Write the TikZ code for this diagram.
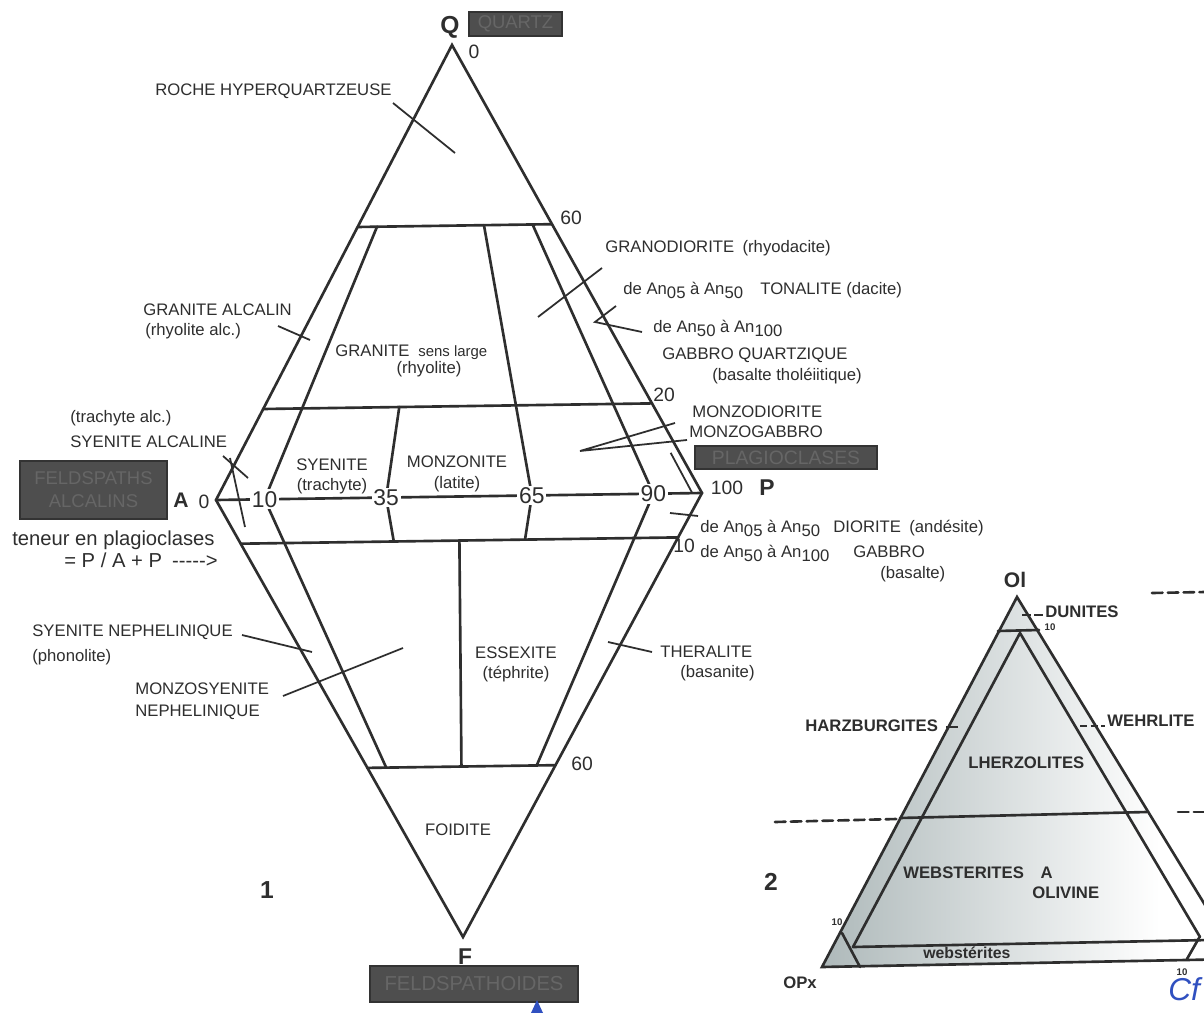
\documentclass[tikz,border=0pt]{standalone}
\usepackage{fontspec}
\setmainfont{Liberation Sans}
\usetikzlibrary{calc}
\definecolor{ink}{HTML}{2E2E2E}
\definecolor{boxfill}{HTML}{4E4E4E}
\definecolor{boxtext}{HTML}{666666}
\definecolor{pen}{HTML}{3050C0}
\definecolor{tintA}{HTML}{AEB9BA}
\definecolor{tintB}{HTML}{DFDFE6}
\newcommand{\sbs}[1]{\raisebox{-0.45ex}{#1}}
\newcommand{\hy}{-\kern0pt}
\begin{document}
\begin{tikzpicture}[x=0.02cm,y=-0.02cm,
  edge/.style={draw=ink, line width=1.5pt, line cap=round},
  lead/.style={draw=ink, line width=1.0pt},
  lbl/.style={text=ink, font=\fontsize{9.5}{11}\selectfont, inner sep=0pt, anchor=base west},
  lblc/.style={lbl, anchor=base},
  num/.style={text=ink, font=\fontsize{11}{13}\selectfont, inner sep=0pt},
  apnum/.style={text=ink, font=\fontsize{13}{15}\selectfont, fill=white, inner sep=1pt},
  vtx/.style={text=ink, font=\bfseries\fontsize{12}{14}\selectfont, inner sep=0pt},
  darkbox/.style={fill=boxfill, draw=black!80, line width=0.8pt, text=boxtext, inner sep=0pt, align=center},
  tlbl/.style={lbl, font=\bfseries\fontsize{9.5}{11}\selectfont},
  tinynum/.style={text=ink, font=\bfseries\fontsize{5.5}{6}\selectfont, inner sep=0pt}
]
\useasboundingbox (0,0) rectangle (1204,1013);
\fill[white] (0,0) rectangle (1204,1013);
\clip (0,0) rectangle (1204,1013);

% ---------- QAPF diamond ----------
\coordinate (Q) at (452,45);
\coordinate (A) at (216,500);
\coordinate (P) at (702,493);
\coordinate (F) at (463,937);
\foreach \r/\n in {0.1/10, 0.35/35, 0.5/50, 0.65/65, 0.9/90, 0.98/98}
  \coordinate (R\n) at ($(A)!\r!(P)$);

\draw[edge] (Q) -- (A) -- (F) -- (P) -- cycle;
\draw[edge] (A) -- (P);
\draw[edge] ($(A)!0.6!(Q)$) -- ($(P)!0.6!(Q)$);
\draw[edge] ($(A)!0.2!(Q)$) -- ($(P)!0.2!(Q)$);
\draw[edge] ($(A)!0.1!(F)$) -- ($(P)!0.1!(F)$);
\draw[edge] ($(A)!0.613!(F)$) -- ($(P)!0.613!(F)$);

\draw[edge] (R10) -- ($(R10)!0.6!(Q)$);
\draw[edge] (R35) -- ($(R35)!0.2!(Q)$);
\draw[edge] (R65) -- ($(R65)!0.6!(Q)$);
\draw[edge] (R90) -- ($(R90)!0.6!(Q)$);
\draw[edge] (R10) -- ($(R10)!0.613!(F)$);
\draw[edge] (R35) -- ($(R35)!0.1!(F)$);
\draw[edge] ($(R50)!0.1!(F)$) -- ($(R50)!0.613!(F)$);
\draw[edge] (R65) -- ($(R65)!0.1!(F)$);
\draw[edge] (R90) -- ($(R90)!0.613!(F)$);
\draw[lead] (R98) -- ($(R98)!0.09!(Q)$);

\node[apnum] (n10) at (R10) {10};
\node[apnum] (n35) at (R35) {35};
\node[apnum] (n65) at (R65) {65};
\node[apnum] (n90) at (R90) {90};

% leaders
\draw[lead] (393,103) -- (455,153);
\draw[lead] (278,326) -- (310,340);
\draw[lead] (602,268) -- (538,317);
\draw[lead] (616,306) -- (595,322) -- (642,332);
\draw[lead] (675,423) -- (580,451) -- (687,440);
\draw[lead] (223,456) -- (248,478);
\draw[lead] (230,458) -- (245,527);
\draw[lead] (670,513) -- (698,516);
\draw[lead] (242,635) -- (312,652);
\draw[lead] (283,696) -- (403,648);
\draw[lead] (608,642) -- (652,652);

% vertex labels and boxes
\node[vtx, font=\bfseries\fontsize{14}{16}\selectfont] (qlab) at (450,27) {Q};
\node[num] (q0) at (474,52) {0};
\node[darkbox, minimum width=1.86cm, minimum height=0.48cm, font=\fontsize{10.5}{12}\selectfont] (quartzbox) at (515.5,24) {QUARTZ};
\node[vtx] (alab) at (181,500) {A};
\node[num] (a0) at (204,502) {0};
\node[darkbox, minimum width=2.94cm, minimum height=1.16cm, font=\fontsize{10.5}{13}\selectfont] (fabox) at (93.5,490) {FELDSPATHS\\ALCALINS};
\node[num] (p100) at (727,488) {100};
\node[vtx, font=\bfseries\fontsize{13}{15}\selectfont] (plab) at (767,488) {P};
\node[darkbox, minimum width=3.64cm, minimum height=0.46cm, font=\fontsize{11}{13}\selectfont] (plbox) at (786,457.5) {PLAGIOCLASES};
\node[vtx, font=\bfseries\fontsize{13}{15}\selectfont] (flab) at (465,957) {F};
\node[darkbox, minimum width=4.16cm, minimum height=0.72cm, font=\fontsize{11.5}{13}\selectfont] (fdbox) at (474,984) {FELDSPATHOIDES};

\node[num] (l60a) at (571,218) {60};
\node[num] (l20) at (664,395) {20};
\node[num] (l10) at (684,546) {10};
\node[num] (l60b) at (582,764) {60};

\node[lbl, font=\fontsize{11.5}{13}\selectfont] (ten1) at (12,545) {teneur en plagioclases};
\node[lbl, font=\fontsize{11.5}{13}\selectfont] (ten2) at (64,567) {= P / A + P\enspace \hy\hy\hy\hy\hy>};

% region labels
\node[lbl] at (155,96) {ROCHE HYPERQUARTZEUSE};
\node[lbl] at (143,316) {GRANITE ALCALIN};
\node[lbl] at (145,336) {(rhyolite alc.)};
\node[lbl] at (605,253) {GRANODIORITE\enspace(rhyodacite)};
\node[lbl] at (623,295) {de An\sbs{05} à An\sbs{50}};
\node[lbl] at (760,295) {TONALITE (dacite)};
\node[lbl] at (653,333) {de An\sbs{50} à An\sbs{100}};
\node[lbl] at (662,360) {GABBRO QUARTZIQUE};
\node[lbl] at (712,381) {(basalte tholéiitique)};
\node[lbl] at (692,418) {MONZODIORITE};
\node[lbl] at (689,438) {MONZOGABBRO};
\node[lbl] at (70,423) {(trachyte alc.)};
\node[lbl] at (70,448) {SYENITE ALCALINE};
\node[lbl] at (335,357) {GRANITE};
\node[lbl, font=\fontsize{8.5}{10}\selectfont] at (418,357) {sens large};
\node[lblc] at (429,374) {(rhyolite)};
\node[lblc] at (332,471) {SYENITE};
\node[lblc] at (332,491) {(trachyte)};
\node[lblc] at (457,468) {MONZONITE};
\node[lblc] at (457,489) {(latite)};
\node[lbl] at (700,533) {de An\sbs{05} à An\sbs{50}};
\node[lbl] at (833,533) {DIORITE\enspace(andésite)};
\node[lbl] at (700,558) {de An\sbs{50} à An\sbs{100}};
\node[lbl] at (853,558) {GABBRO};
\node[lbl] at (880,578) {(basalte)};
\node[lbl] at (32,636) {SYENITE NEPHELINIQUE};
\node[lbl] at (32,661) {(phonolite)};
\node[lbl] at (135,694) {MONZOSYENITE};
\node[lbl] at (135,716) {NEPHELINIQUE};
\node[lblc] at (516,658) {ESSEXITE};
\node[lblc] at (516,678) {(téphrite)};
\node[lbl] at (660,657) {THERALITE};
\node[lbl] at (680,677) {(basanite)};
\node[lblc] at (458,835) {FOIDITE};
\node[vtx, font=\bfseries\fontsize{14}{16}\selectfont] (one) at (267,890) {1};

% ---------- ultramafic triangle ----------
\coordinate (Ol) at (1017,597);
\coordinate (OPx) at (822,967);
\coordinate (CPx) at (1238,959);
\begin{scope}
  \clip (Ol) -- (OPx) -- (CPx) -- cycle;
  \shade[left color=tintA, middle color=tintB, right color=white] (822,590) rectangle (1160,970);
\end{scope}
\draw[edge] (Ol) -- (OPx) -- (CPx) -- cycle;
\draw[edge] (998,631) -- (1039,630);
\draw[edge] (1020,633) -- (853,947);
\draw[edge] (1020,633) -- (1200,937);
\draw[edge] (853,947) -- (1210,940);
\draw[edge] (900,818) -- (1147,812);
\draw[edge, dash pattern=on 6pt off 3pt] (775,822) -- (897,819);
\draw[edge, dash pattern=on 6pt off 3pt] (1178,812) -- (1206,812);
\draw[edge, dash pattern=on 6pt off 3pt] (1152,593) -- (1206,592);
\draw[edge] (842,933) -- (860,967);
\draw[edge] (1187,959) -- (1199,938);
\draw[lead, dash pattern=on 5pt off 2pt] (1022,615) -- (1045,615);
\draw[lead] (946,727) -- (958,727);
\draw[lead, dash pattern=on 4pt off 2pt] (1080,726) -- (1105,726);

\node[vtx] (ollab) at (1015,580) {Ol};
\node[tlbl] at (1045,617) {DUNITES};
\node[tinynum] at (1050,627) {10};
\node[tlbl] at (805,731) {HARZBURGITES};
\node[tlbl] at (1107,726) {WEHRLITE};
\node[tlbl] at (968,768) {LHERZOLITES};
\node[tlbl] at (903,878) {WEBSTERITES\quad A};
\node[tlbl] at (1032,898) {OLIVINE};
\node[tlbl, font=\bfseries\fontsize{9}{10}\selectfont] at (923,958) {webstérites};
\node[tlbl] at (783,988) {OPx};
\node[tinynum] at (837,922) {10};
\node[tinynum] at (1182,972) {10};
\node[vtx, font=\bfseries\fontsize{14}{16}\selectfont] (two) at (771,882) {2};

% handwritten marks
\node[text=pen, font=\itshape\fontsize{18}{20}\selectfont, inner sep=0pt, anchor=base west] at (1168,1000) {Cf};
\fill[pen] (531,1013) -- (537,1000) -- (543,1013) -- cycle;
\end{tikzpicture}
\end{document}
